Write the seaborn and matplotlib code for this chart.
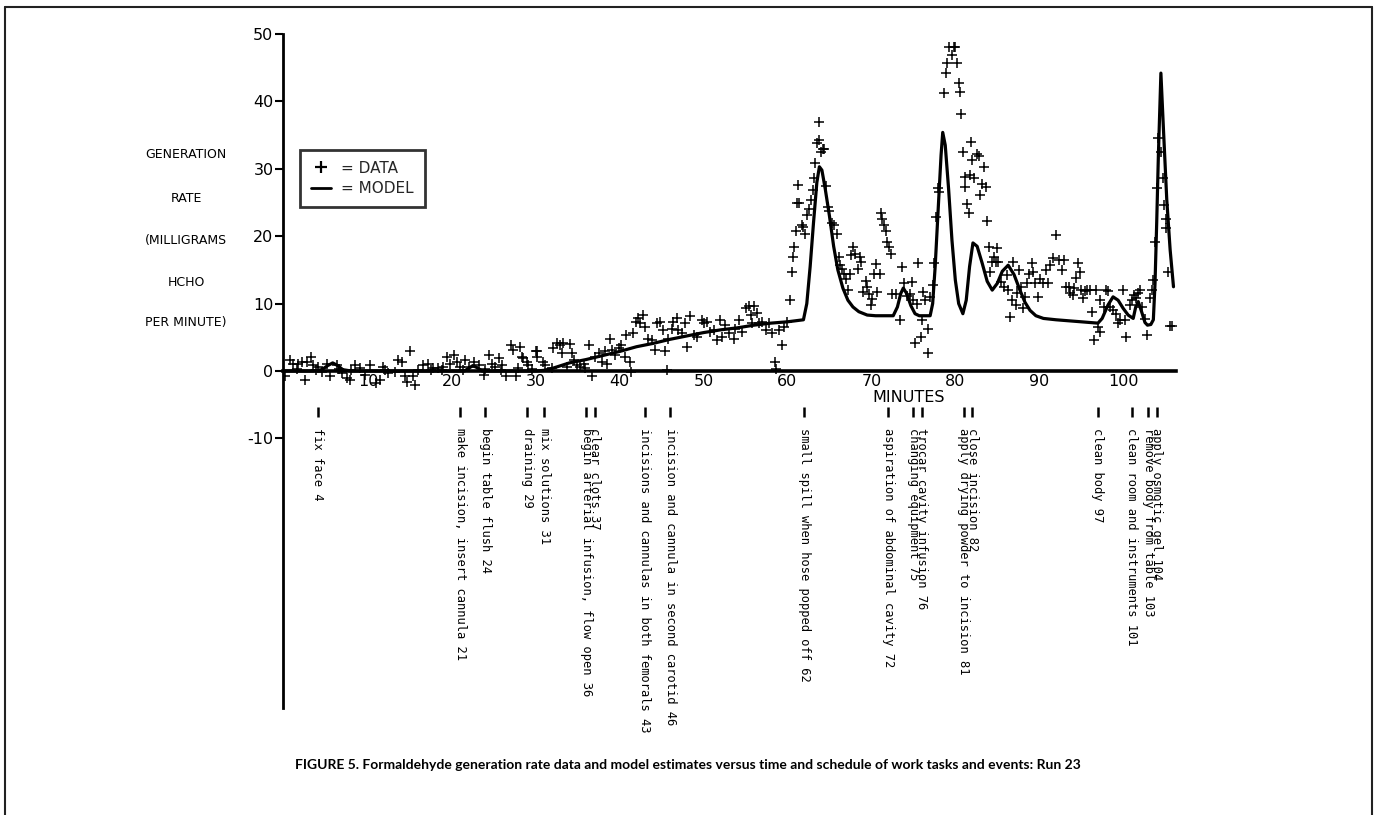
import matplotlib
matplotlib.use('Agg')
import matplotlib.pyplot as plt
import seaborn as sns
from matplotlib.lines import Line2D
from matplotlib import font_manager as fm

sns.set_theme(style='white')
plt.rcParams['font.family'] = ['DejaVu Sans']
plt.rcParams['axes.unicode_minus'] = False

# ---------------- data ----------------
data_t_a = [0.1, 0.7, 1.1, 1.5, 1.7, 2.1, 2.5, 2.7, 3.2, 3.5, 3.8, 4.1, 4.5, 5.1, 5.5,
            6.3, 6.6, 6.9, 7.5, 7.9, 8.0, 8.5, 9.1, 9.7, 10.3, 10.9, 11.4, 11.8, 12.0, 12.4,
            13.2, 13.6, 14.0, 14.4, 14.6, 15.0, 15.4, 15.6, 16.0, 16.6, 17.2, 17.5, 17.8, 18.4, 18.8,
            19.0, 19.4, 19.8, 20.2, 20.6, 21.0, 21.3, 21.6, 22.0, 22.6, 23.2, 23.8, 24.0, 24.4, 24.8,
            25.2, 25.6, 25.8, 26.0, 26.5, 27.1, 27.3, 27.7, 27.9, 28.1, 28.5, 29.1, 29.6, 30.1]
data_v_a = [-0.8, 1.7, 1.1, 0.3, 1.1, 1.4, -1.3, 1.4, 2.1, 0.9, 0.2, 0.6, -0.1, 1.1, -0.8,
            0.9, 0.3, -0.3, -1.1, -1.3, 0.2, 0.9, 0.4, -0.6, 0.9, -1.8, -1.3, 0.6, 0.1, -0.3,
            -0.1, 1.6, 1.4, -0.8, -1.6, 2.9, -0.8, -2.1, 0.1, 0.9, 1.1, 0.2, 0.4, 0.4, 0.2,
            0.6, 2.1, 1.1, 2.4, 1.4, 0.6, 0.2, 1.6, 0.6, 1.4, 0.9, -0.6, 0.3, 2.4, 1.1,
            0.6, 1.9, 0.2, 0.9, -0.8, 3.9, 3.1, -0.8, 0.4, 3.6, 1.9, 0.9, 0.3, 2.9]

data_t_b = [28.3, 28.9, 30.0, 30.1, 30.9, 31.1, 31.9, 32.1, 32.5, 32.9, 33.1, 33.3, 33.7, 34.1, 34.3,
            34.5, 34.9, 35.3, 35.7, 35.9, 36.3, 36.7, 37.1, 37.5, 37.9, 38.3, 38.5, 38.9, 39.1, 39.5,
            39.9, 40.2, 40.6, 40.8, 41.2, 41.4, 41.6, 42.0, 42.2, 42.4, 42.8, 43.0, 43.4, 43.8, 44.2,
            44.4, 44.8, 45.2, 45.4, 45.6, 45.8, 46.2, 46.4, 46.8, 47.0, 47.4, 47.8, 48.0, 48.4, 48.8,
            49.2, 49.8, 50.0, 50.4, 50.8, 51.2, 51.6, 52.0, 52.2, 52.6, 53.0, 53.6, 53.8, 54.2, 54.6,
            55.0, 55.4, 55.6, 55.8, 56.0, 56.4, 56.6, 57.0, 57.4, 57.8, 58.2, 58.5, 58.6, 59.0, 59.3,
            59.6, 60.0]
data_v_b = [2.1, 1.4, 2.9, 2.1, 1.4, 0.9, 0.4, 3.4, 4.1, 3.9, 2.6, 4.1, 0.6, 4.0, 2.6,
            1.6, 0.9, 0.6, 1.1, 0.4, 3.9, -0.8, 2.1, 2.6, 1.4, 2.9, 1.1, 4.7, 3.1, 2.4,
            3.4, 3.9, 2.1, 5.3, 1.4, -0.1, 5.6, 7.3, 7.8, 7.1, 8.3, 6.6, 4.8, 4.6, 3.1,
            7.1, 7.3, 6.1, 2.9, 0.1, 4.8, 6.3, 7.3, 7.8, 6.1, 5.6, 7.1, 3.6, 8.1, 5.3,
            5.1, 7.6, 7.1, 7.3, 5.8, 6.1, 4.6, 7.6, 5.1, 6.8, 5.6, 4.8, 6.3, 7.6, 5.8,
            9.3, 9.6, 8.3, 7.1, 9.6, 8.6, 7.1, 7.3, 6.1, 7.1, 5.6, 1.4, 0.3, 6.1, 3.9,
            6.6, 7.3]

data_t_c = [60.3, 60.5, 60.6, 60.8, 61.0, 61.1, 61.4, 61.3, 61.7, 61.9, 62.1, 62.3, 62.6, 62.8, 63.0,
            63.2, 63.3, 63.5, 63.7, 63.8, 64.0, 64.2, 64.4, 64.6, 64.8, 65.0, 65.3, 65.6, 65.9, 66.1,
            66.3, 66.5, 66.7, 67.0, 67.2, 67.4, 67.6, 67.8, 68.1, 68.4, 68.6, 68.8, 69.0, 69.3, 69.5,
            69.7, 69.9, 70.1, 70.3, 70.5, 70.7, 71.0, 71.2, 71.3, 71.5, 71.7, 71.9, 72.1, 72.3, 72.5,
            72.9, 73.4, 73.7, 73.9, 74.2, 74.6, 74.8, 75.0, 75.2, 75.4, 75.6, 75.9, 76.0, 76.2, 76.4,
            76.7, 76.8, 77.0, 77.3, 77.5, 77.7, 77.9, 78.1]
data_v_c = [10.5, 14.7, 16.9, 18.4, 20.7, 24.9, 24.9, 27.6, 21.7, 21.4, 20.4, 23.1, 24.1, 25.4, 26.9,
            28.6, 30.8, 33.8, 36.9, 34.3, 32.5, 33.0, 33.0, 27.4, 24.4, 23.8, 21.9, 21.7, 20.4, 16.9,
            15.7, 15.2, 14.4, 13.7, 12.0, 14.4, 17.2, 18.4, 17.4, 15.2, 16.9, 16.2, 11.7, 13.4, 12.4,
            11.4, 9.8, 10.7, 14.4, 15.9, 11.7, 14.4, 23.4, 22.6, 21.7, 20.7, 19.2, 18.4, 17.4, 11.4,
            11.4, 7.5, 15.5, 13.0, 11.2, 11.4, 13.2, 10.5, 4.2, 10.0, 16.0, 5.0, 7.5, 11.7, 10.5,
            6.3, 2.6, 11.0, 12.7, 16.0, 22.9, 27.1, 26.6]

data_t_d = [78.7, 78.9, 79.0, 79.2, 79.6, 79.8, 80.0, 80.2, 80.4, 80.6, 80.7, 80.9, 81.1, 81.2, 81.4,
            81.6, 81.7, 81.9, 82.0, 82.2, 82.6, 82.8, 83.0, 83.2, 83.4, 83.6, 83.8, 84.0, 84.1, 84.4,
            84.6, 84.8, 85.0, 85.1, 85.5, 85.8, 86.1, 86.3, 86.5, 86.7, 86.9, 87.2, 87.4, 87.6, 87.8,
            88.1, 88.3, 88.6, 88.8, 89.1, 89.3, 89.5, 89.9, 90.1, 90.5, 90.8, 91.1, 91.3, 91.7, 92.0,
            92.3, 92.7, 92.9, 93.2]
data_v_d = [41.2, 44.2, 45.7, 48.1, 46.9, 48.1, 48.1, 45.7, 42.7, 41.4, 38.2, 32.5, 28.8, 27.3, 24.8,
            23.5, 29.1, 34.0, 31.3, 28.6, 32.2, 31.9, 26.1, 27.8, 30.3, 27.3, 22.2, 18.4, 14.7, 16.2,
            16.9, 16.2, 18.2, 16.2, 13.2, 12.5, 14.2, 12.0, 8.0, 10.6, 16.2, 9.8, 11.5, 15.0, 12.5,
            9.3, 11.0, 13.0, 14.4, 16.0, 14.7, 13.0, 11.0, 13.7, 13.0, 15.0, 13.0, 15.7, 16.7, 20.2,
            16.4, 15.0, 16.4, 12.5]

data_t_e = [93.5, 93.7, 94.0, 94.2, 94.4, 94.6, 94.8, 95.0, 95.2, 95.5, 95.7, 96.0, 96.3, 96.5, 96.8,
            97.0, 97.2, 97.3, 97.7, 98.0, 98.2, 98.4, 98.8, 99.2, 99.4, 99.6, 100.0, 100.2, 100.4, 100.8,
            101.1, 101.3, 101.5, 101.8, 102.0, 102.2, 102.6, 102.9, 103.2, 103.4, 103.6, 103.8, 104.0, 104.2, 104.5,
            104.7, 104.9, 105.1, 105.1, 105.3, 105.6, 105.8]
data_v_e = [12.5, 11.5, 11.3, 12.3, 13.8, 16.0, 14.7, 12.0, 10.8, 11.8, 12.0, 12.0, 8.8, 4.6, 12.0,
            6.6, 5.8, 10.5, 9.5, 12.0, 11.8, 9.5, 9.0, 8.5, 7.1, 7.5, 12.0, 7.5, 5.1, 9.8,
            10.5, 11.3, 10.8, 11.5, 12.0, 9.5, 7.7, 5.3, 10.8, 12.0, 13.5, 19.2, 27.1, 34.5, 32.5,
            28.6, 24.6, 22.6, 21.2, 14.7, 6.7, 6.7]

model_t = [0, 3.5, 4.5, 5.2, 5.8, 6.4, 7.0, 8, 21.5, 22.0, 22.5, 23.0, 23.6, 30, 31, 32, 33, 34, 36, 38,
           40, 42, 44, 46, 48, 50, 52, 54, 56, 58, 60, 61.9, 62.3, 62.7, 63.1, 63.5, 63.8, 64.1, 64.5, 65.0,
           65.5, 66.0, 66.6, 67.2, 67.8, 68.5, 69.5, 70.5, 72.6, 73.1, 73.5, 73.8, 74.2, 74.7, 75.2, 75.7,
           77.0, 77.3, 77.6, 78.0, 78.3, 78.5, 78.8, 79.2, 79.6, 80.0, 80.4, 80.9, 81.3, 81.7, 82.1, 82.6,
           83.2, 83.8, 84.4, 85.0, 85.6, 86.3, 87.0, 87.7, 88.3, 88.9, 89.6, 90.5, 92, 94, 97.0, 97.5,
           98.2, 98.8, 99.4, 100.0, 100.6, 101.2, 101.5, 101.8, 102.2, 102.6, 102.9, 103.3, 103.6, 103.8,
           104.0, 104.2, 104.5, 104.8, 105.2, 105.6, 106.0]
model_v = [0, 0, 0.2, 0.8, 1.2, 0.8, 0.2, 0, 0, 0.4, 0.8, 0.5, 0, 0, 0.1, 0.4, 0.8, 1.2, 1.7, 2.3,
           2.9, 3.6, 4.1, 4.7, 5.2, 5.7, 6.1, 6.4, 6.8, 7.1, 7.3, 7.6, 10, 15.5, 22, 28, 30.3, 29.8, 27, 23,
           18.5, 15, 12.3, 10.5, 9.5, 8.8, 8.3, 8.2, 8.2, 9.5, 11.5, 12.3, 11.5, 9.7, 8.5, 8.2,
           8.2, 10, 15.5, 25, 32, 35.4, 33.5, 27, 19.4, 13.5, 10, 8.5, 10.5, 15.5, 19, 18.5,
           16, 13.3, 12.0, 13, 14.8, 15.7, 14.3, 12, 10.2, 9.0, 8.2, 7.8, 7.6, 7.4, 7.1, 7.8,
           9.8, 11, 10.5, 9.3, 8.3, 7.8, 9.5, 10.3, 8.8, 7.2, 6.8, 6.9, 7.6, 13,
           22, 32, 44.2, 36, 25.4, 18, 12.5]

event_times = [4, 21, 24, 29, 31, 36, 37, 43, 46, 62, 72, 75, 76, 81, 82, 97, 101, 103, 104]
event_labels = ["fix face 4",
                "make incision, insert cannula 21",
                "begin table flush 24",
                "draining 29",
                "mix solutions 31",
                "begin arterial infusion, flow open 36",
                "clear clots 37",
                "incisions and cannulas in both femorals 43",
                "incision and cannula in second carotid 46",
                "small spill when hose popped off 62",
                "aspiration of abdominal cavity 72",
                "changing equipment 75",
                "trocar cavity infusion 76",
                "apply drying powder to incision 81",
                "close incision 82",
                "clean body 97",
                "clean room and instruments 101",
                "remove body from table 103",
                "apply osmotic gel 104"]

y_ticks = [-10, 0, 10, 20, 30, 40, 50]
x_ticks = [10, 20, 30, 40, 50, 60, 70, 80, 90, 100]
ylabel_lines = ["GENERATION", "RATE", "(MILLIGRAMS", "HCHO", "PER MINUTE)"]
caption = ("FIGURE 5. Formaldehyde generation rate data and model estimates versus time "
           "and schedule of work tasks and events: Run 23")

data_t = data_t_a + data_t_b + data_t_c + data_t_d + data_t_e
data_v = data_v_a + data_v_b + data_v_c + data_v_d + data_v_e

# ---------------- figure ----------------
W, H = 1377, 815
fig = plt.figure(figsize=(W / 100, H / 100), dpi=100)
fig.patch.set_facecolor('white')


def fx(px):
    return px / W


def fy(py):
    return 1 - py / H


ax = fig.add_axes([fx(283.2), fy(708), (1176 - 283.2) / W, (708 - 34) / H])
ax.patch.set_alpha(0)

sns.scatterplot(x=data_t, y=data_v, marker='+', s=45, color='black', linewidth=1.1,
                ax=ax, legend=False, zorder=3)
sns.lineplot(x=model_t, y=model_v, color='black', lw=2.3, ax=ax, sort=False,
             estimator=None, zorder=4)

ax.set_xlim(-0.1, 106.3)
ax.set_ylim(-50, 50)
ax.grid(False)
for s in ['top', 'right']:
    ax.spines[s].set_visible(False)
ax.spines['bottom'].set_position(('data', 0))
ax.spines['bottom'].set_linewidth(2.6)
ax.spines['left'].set_linewidth(2.0)
for s in ['bottom', 'left']:
    ax.spines[s].set_color('black')
ax.set_yticks(y_ticks)
ax.set_xticks(x_ticks)
ax.tick_params(axis='y', direction='out', length=6, width=1.5, labelsize=11.5, pad=1,
               colors='black', left=True)
ax.tick_params(axis='x', length=0, pad=2, labelsize=11.5, colors='black')
ax.set_xlabel('')
ax.set_ylabel('')

# event marks and labels
ax.vlines(event_times, -6.8, -5.3, colors='black', lw=1.8)
for t, lab in zip(event_times, event_labels):
    ax.text(t, -8.4, lab, rotation=-90, ha='center', va='top',
            family='DejaVu Sans Mono', fontsize=8.7, color='black')

# legend
handles = [Line2D([], [], marker='+', ls='none', color='black', ms=8, mew=1.6),
           Line2D([], [], color='black', lw=2)]
leg = ax.legend(handles, ['= DATA', '= MODEL'], loc='upper left',
                bbox_to_anchor=((300 - 283.2) / 892.8, (708 - 150) / 674),
                borderaxespad=0, frameon=True, fancybox=False, fontsize=11,
                handlelength=1.3, handletextpad=0.7, borderpad=0.7, labelspacing=0.35)
leg.get_frame().set_edgecolor('black')
leg.get_frame().set_linewidth(2)

# axis texts
fig.text(fx(909), fy(397), 'MINUTES', ha='center', va='center', fontsize=11.5, color='black')
for py, line in zip([155, 198, 240, 282, 323], ylabel_lines):
    fig.text(fx(186), fy(py), line, ha='center', va='center', fontsize=9, color='black')

# caption in a narrow bold face, sized to the reference width
cap_fp = fm.FontProperties(family=['Lato', 'Roboto', 'DejaVu Sans'], weight='bold', size=11)
cap = fig.text(fx(688), fy(765), caption, ha='center', va='center',
               fontproperties=cap_fp, color='black')
fig.canvas.draw()
w = cap.get_window_extent().width
cap_fp.set_size(11 * 780.0 / w)
cap.set_fontproperties(cap_fp)

# page frame
fig.add_artist(Line2D([fx(5), fx(1372)], [fy(7), fy(7)], color='#222222', lw=1.5))
fig.add_artist(Line2D([fx(5), fx(5)], [fy(7), 0], color='#222222', lw=1.5))
fig.add_artist(Line2D([fx(1372), fx(1372)], [fy(7), 0], color='#222222', lw=1.5))

fig.savefig('out.png', dpi=100)
